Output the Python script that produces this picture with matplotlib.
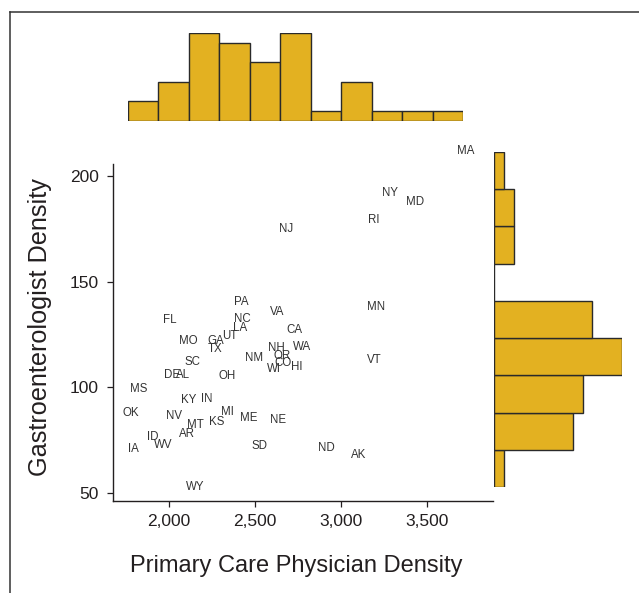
import numpy as np
import matplotlib
matplotlib.use("Agg")
import matplotlib.pyplot as plt
from matplotlib.lines import Line2D

plt.rcParams['font.family'] = ['Liberation Sans', 'DejaVu Sans']

# state labels with primary care physician density (x) and gastroenterologist density (y)
states = ['MA', 'NY', 'MD', 'RI', 'NJ', 'PA', 'NC', 'LA', 'VA', 'FL',
          'CA', 'UT', 'GA', 'TX', 'MO', 'NH', 'WA', 'OR', 'NM', 'CO',
          'HI', 'WI', 'SC', 'DE', 'AL', 'OH', 'MS', 'KY', 'IN', 'OK',
          'NV', 'MI', 'ME', 'NE', 'MT', 'KS', 'ID', 'WV', 'AR', 'IA',
          'SD', 'WY', 'ND', 'AK', 'MN', 'VT']
pcp = [3729, 3286, 3432, 3189, 2679, 2423, 2427, 2413, 2629, 2002,
       2732, 2353, 2270, 2270, 2111, 2627, 2776, 2656, 2493, 2664,
       2745, 2611, 2136, 2016, 2080, 2338, 1824, 2112, 2221, 1775,
       2027, 2343, 2464, 2636, 2153, 2278, 1903, 1965, 2107, 1795,
       2524, 2150, 2918, 3106, 3207, 3195]
gi = [211.7, 192.1, 187.7, 179.2, 174.9, 140.2, 132.3, 128.2, 135.5, 131.7,
      126.9, 124.1, 122.0, 118.2, 121.7, 118.5, 119.0, 114.8, 113.8, 111.3,
      109.4, 108.5, 111.9, 105.6, 105.6, 105.1, 99.1, 93.9, 94.4, 87.6,
      86.2, 88.2, 85.5, 84.3, 82.1, 83.5, 76.5, 72.5, 77.7, 70.8,
      72.0, 52.8, 71.0, 68.0, 138.1, 112.9]

# marginal histogram counts (top: low -> high pcp, right: low -> high gi)
pcp_counts = [2, 4, 9, 8, 6, 9, 1, 4, 1, 1, 1]
gi_counts = [1, 8, 9, 13, 10, 0, 2, 2, 1]

x_ticks = [2000, 2500, 3000, 3500]
y_ticks = [50, 100, 150, 200]

W, H = 639, 593
fig = plt.figure(figsize=(W / 100, H / 100), dpi=100)

def rect(left, top, right, bottom):
    return [left / W, 1 - bottom / H, (right - left) / W, (bottom - top) / H]

gold = '#E3B121'
edge = '#2a2a2a'
ink = '#231f20'

# main scatter of text labels
ax = fig.add_axes(rect(113, 140, 493, 500.5))
for s, x, y in zip(states, pcp, gi):
    ax.text(x, y, s, ha='center', va='center', fontsize=8.3, color='#333333')
ax.set_xlim(1674, 3886)
ax.set_ylim(46.3, 217.1)
ax.spines['top'].set_visible(False)
ax.spines['right'].set_visible(False)
ax.spines['left'].set_bounds(46.3, 205.7)
for sp in ['left', 'bottom']:
    ax.spines[sp].set_linewidth(1.0)
    ax.spines[sp].set_color(ink)
ax.set_xticks(x_ticks)
ax.set_xticklabels(['{:,}'.format(t) for t in x_ticks])
ax.set_yticks(y_ticks)
ax.tick_params(direction='out', length=4.5, width=0.9, colors=ink,
               labelsize=12.5)
ax.tick_params(axis='x', pad=5)
ax.tick_params(axis='y', pad=5.5)

fig.text(296, H - 566, 'Primary Care Physician Density', transform=None,
         ha='center', va='center', fontsize=17, color=ink)
fig.text(40, H - 327, 'Gastroenterologist Density', transform=None,
         ha='center', va='center', rotation=90, fontsize=18.2, color=ink)

# top histogram
axt = fig.add_axes(rect(128, 33, 463, 120.7))
axt.bar(np.arange(len(pcp_counts)), pcp_counts, width=1, align='edge',
        color=gold, edgecolor=edge, linewidth=1.0)
axt.set_xlim(0, len(pcp_counts))
axt.set_ylim(0, max(pcp_counts))
axt.axis('off')

# right histogram
axr = fig.add_axes(rect(494.3, 152, 621.7, 487))
axr.barh(np.arange(len(gi_counts)), gi_counts, height=1, align='edge',
         color=gold, edgecolor=edge, linewidth=1.0)
axr.set_ylim(0, len(gi_counts))
axr.set_xlim(0, max(gi_counts))
axr.axis('off')

# frame lines (top and left)
fig.add_artist(Line2D([9.5 / W, 1], [1 - 12 / H, 1 - 12 / H], color='#333333', linewidth=1.1))
fig.add_artist(Line2D([9.5 / W, 9.5 / W], [1 - 12 / H, 0], color='#333333', linewidth=1.1))

fig.savefig('out.png', dpi=100)
